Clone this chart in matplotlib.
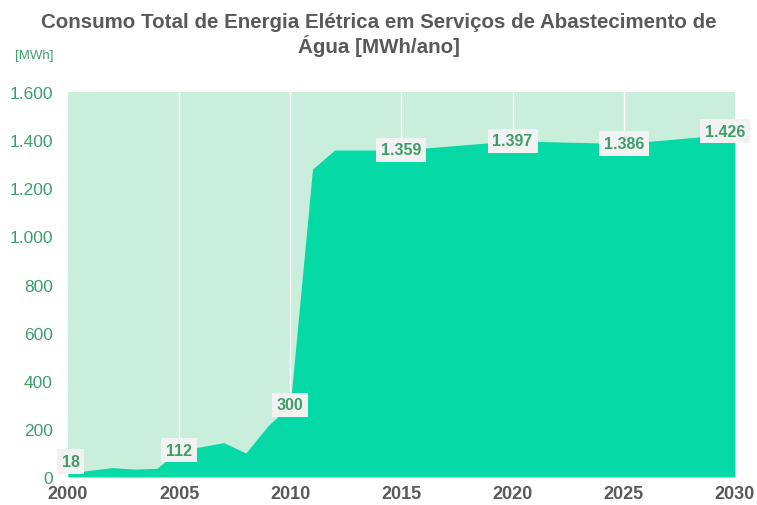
import numpy as np
import matplotlib.pyplot as plt

plt.rcParams['font.family'] = ['Liberation Sans', 'DejaVu Sans']

years = [2000, 2001, 2002, 2003, 2004, 2005, 2006, 2007, 2008, 2009, 2010,
         2011, 2012, 2015, 2020, 2025, 2030]
consumo = [18, 28, 39, 33, 36, 112, 126, 143, 100, 213, 300,
           1280, 1359, 1359, 1397, 1386, 1426]

label_years = [2000, 2005, 2010, 2015, 2020, 2025, 2030]
label_vals = [18, 112, 300, 1359, 1397, 1386, 1426]
label_text = ['18', '112', '300', '1.359', '1.397', '1.386', '1.426']

yticks = [0, 200, 400, 600, 800, 1000, 1200, 1400, 1600]
ytick_labels = ['0', '200', '400', '600', '800', '1.000', '1.200', '1.400', '1.600']
xticks = [2000, 2005, 2010, 2015, 2020, 2025, 2030]

green_txt = '#3d9e6b'
gray_txt = '#595959'

fig = plt.figure(figsize=(7.57, 5.06), dpi=100)
ax = fig.add_axes([0.0898, 0.0553, 0.881, 0.7609])
ax.set_facecolor('#c9eedc')

ax.fill_between(years, 0, consumo, color='#05d9a5', lw=0, zorder=2)
for x in xticks[1:-1]:
    ax.axvline(x, color='white', lw=1, zorder=1)

ax.set_xlim(2000, 2030)
ax.set_ylim(0, 1600)
ax.set_xticks(xticks)
ax.set_xticklabels([str(x) for x in xticks], fontsize=13, fontweight='bold', color=gray_txt)
ax.set_yticks(yticks)
ax.set_yticklabels(ytick_labels, fontsize=12.5, color=green_txt)
ax.tick_params(axis='x', length=0, pad=6)
ax.tick_params(axis='y', length=0, pad=11)
for s in ax.spines.values():
    s.set_visible(False)

box = dict(boxstyle='square,pad=0.3', fc='#f2f2f2', ec='none')
offsets = {2000: (2, 8), 2030: (-7, 2)}
for x, v, t in zip(label_years, label_vals, label_text):
    dx, dy = offsets.get(x, (0, 0))
    ax.annotate(t, (x, v), xytext=(dx, dy), textcoords='offset points',
                ha='center', va='center', fontsize=11.5, fontweight='bold',
                color=green_txt, bbox=box, zorder=5, annotation_clip=False)

fig.text(0.5, 0.955, 'Consumo Total de Energia Elétrica em Serviços de Abastecimento de',
         ha='center', va='center', fontsize=14.8, fontweight='bold', color=gray_txt)
fig.text(0.5, 0.91, 'Água [MWh/ano]',
         ha='center', va='center', fontsize=14.8, fontweight='bold', color=gray_txt)
fig.text(0.045, 0.89, '[MWh]', ha='center', va='center', fontsize=9.5, color=green_txt)

fig.savefig('out.png', dpi=100)
